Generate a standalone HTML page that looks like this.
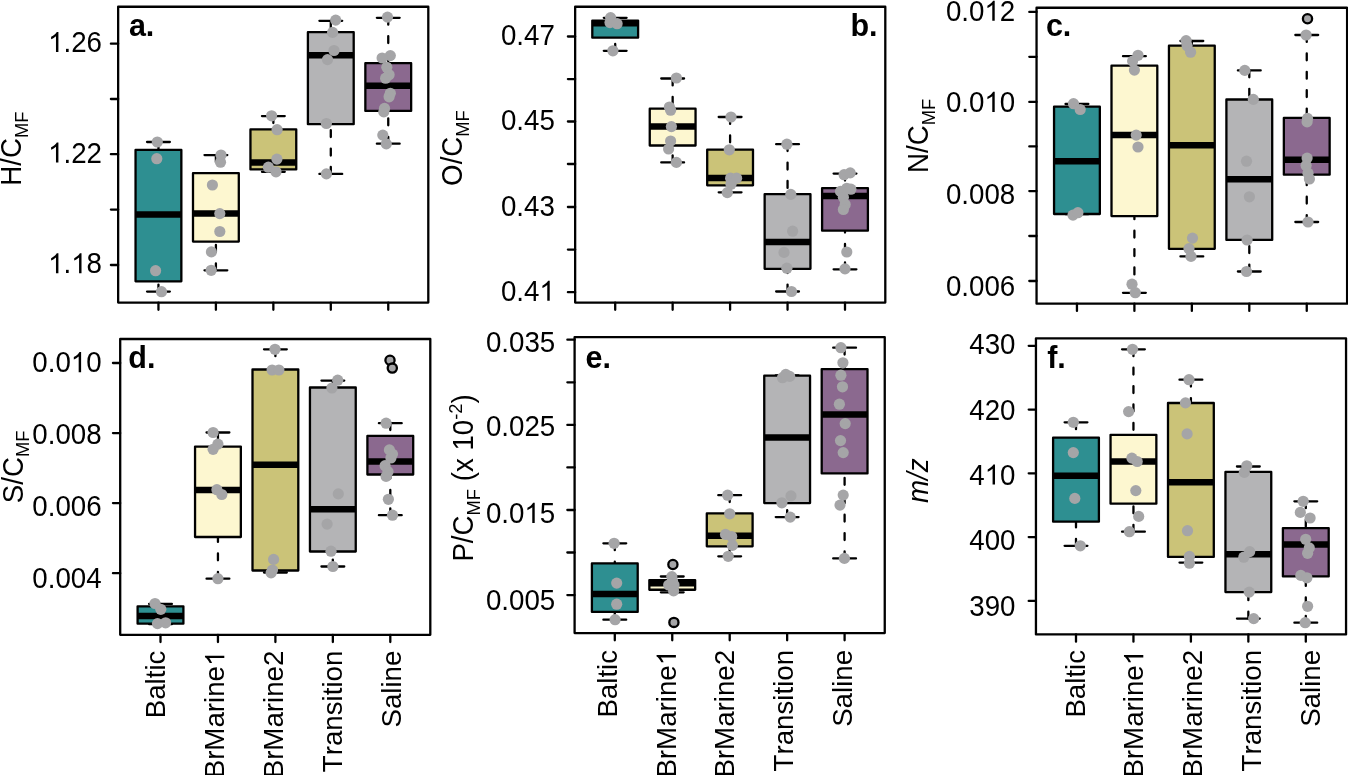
<!DOCTYPE html>
<html><head><meta charset="utf-8"><title>Boxplots</title>
<style>
html,body{margin:0;padding:0;background:#fff;}
body{width:1348px;height:775px;overflow:hidden;}
svg{display:block;will-change:transform;}
text{font-family:"Liberation Sans",sans-serif;fill:#000;font-kerning:none;}
.tl{font-size:27.7px;}
.sub{font-size:18.3px;}
.pl{font-size:30.5px;font-weight:bold;}
.fr{fill:none;stroke:#000;stroke-width:2.3;stroke-linejoin:round;}
.bx{stroke:#000;stroke-width:2.3;stroke-linejoin:round;}
.md{stroke:#000;stroke-width:6.5;stroke-linecap:butt;}
.wh{stroke:#000;stroke-width:2.3;stroke-dasharray:6.9 11.5;stroke-linecap:round;}
.st{stroke:#000;stroke-width:2.3;stroke-linecap:round;}
.tk{stroke:#000;stroke-width:2.3;stroke-linecap:round;}
.ol{fill:#A5A5A7;stroke:#000;stroke-width:2.3;}
</style></head>
<body>
<svg width="1348" height="775" viewBox="0 0 1348 775">
<rect width="1348" height="775" fill="#fff"/>
<g>
<line x1="158.45" y1="142" x2="158.45" y2="149.9" class="wh"/>
<line x1="158.45" y1="291.6" x2="158.45" y2="281.3" class="wh"/>
<line x1="147.05" y1="142" x2="169.85" y2="142" class="st"/>
<line x1="147.05" y1="291.6" x2="169.85" y2="291.6" class="st"/>
<rect x="135.55" y="149.9" width="45.8" height="131.4" fill="#2E8F91" class="bx"/>
<line x1="135.55" y1="214.6" x2="181.35" y2="214.6" class="md"/>
<line x1="215.9" y1="155.1" x2="215.9" y2="173.2" class="wh"/>
<line x1="215.9" y1="270.3" x2="215.9" y2="241.6" class="wh"/>
<line x1="204.5" y1="155.1" x2="227.3" y2="155.1" class="st"/>
<line x1="204.5" y1="270.3" x2="227.3" y2="270.3" class="st"/>
<rect x="193" y="173.2" width="45.8" height="68.4" fill="#FDF7D0" class="bx"/>
<line x1="193" y1="213.5" x2="238.8" y2="213.5" class="md"/>
<line x1="273.35" y1="116.1" x2="273.35" y2="129.4" class="wh"/>
<line x1="273.35" y1="171.8" x2="273.35" y2="169.4" class="wh"/>
<line x1="261.95" y1="116.1" x2="284.75" y2="116.1" class="st"/>
<line x1="261.95" y1="171.8" x2="284.75" y2="171.8" class="st"/>
<rect x="250.45" y="129.4" width="45.8" height="40" fill="#CBC378" class="bx"/>
<line x1="250.45" y1="162.5" x2="296.25" y2="162.5" class="md"/>
<line x1="330.8" y1="20.8" x2="330.8" y2="32.2" class="wh"/>
<line x1="330.8" y1="173.9" x2="330.8" y2="124.2" class="wh"/>
<line x1="319.4" y1="20.8" x2="342.2" y2="20.8" class="st"/>
<line x1="319.4" y1="173.9" x2="342.2" y2="173.9" class="st"/>
<rect x="307.9" y="32.2" width="45.8" height="92" fill="#B4B4B6" class="bx"/>
<line x1="307.9" y1="55.2" x2="353.7" y2="55.2" class="md"/>
<line x1="388.25" y1="17.8" x2="388.25" y2="63.2" class="wh"/>
<line x1="388.25" y1="143.7" x2="388.25" y2="110.9" class="wh"/>
<line x1="376.85" y1="17.8" x2="399.65" y2="17.8" class="st"/>
<line x1="376.85" y1="143.7" x2="399.65" y2="143.7" class="st"/>
<rect x="365.35" y="63.2" width="45.8" height="47.7" fill="#8B698F" class="bx"/>
<line x1="365.35" y1="85.8" x2="411.15" y2="85.8" class="md"/>
<circle cx="157.3" cy="142" r="5.6" fill="#A5A5A7"/>
<circle cx="156.8" cy="158.7" r="5.6" fill="#A5A5A7"/>
<circle cx="155.6" cy="270.7" r="5.6" fill="#A5A5A7"/>
<circle cx="161.5" cy="291.7" r="5.6" fill="#A5A5A7"/>
<circle cx="221" cy="155" r="5.6" fill="#A5A5A7"/>
<circle cx="220.5" cy="162.2" r="5.6" fill="#A5A5A7"/>
<circle cx="212.4" cy="185" r="5.6" fill="#A5A5A7"/>
<circle cx="219.8" cy="213.6" r="5.6" fill="#A5A5A7"/>
<circle cx="219.8" cy="231.5" r="5.6" fill="#A5A5A7"/>
<circle cx="211.4" cy="251.9" r="5.6" fill="#A5A5A7"/>
<circle cx="211.2" cy="270.3" r="5.6" fill="#A5A5A7"/>
<circle cx="271.6" cy="115.8" r="5.6" fill="#A5A5A7"/>
<circle cx="277.1" cy="129.7" r="5.6" fill="#A5A5A7"/>
<circle cx="276.9" cy="159.1" r="5.6" fill="#A5A5A7"/>
<circle cx="268.4" cy="167.2" r="5.6" fill="#A5A5A7"/>
<circle cx="276" cy="171.8" r="5.6" fill="#A5A5A7"/>
<circle cx="335.7" cy="20.1" r="5.6" fill="#A5A5A7"/>
<circle cx="332.6" cy="32.4" r="5.6" fill="#A5A5A7"/>
<circle cx="334" cy="50.5" r="5.6" fill="#A5A5A7"/>
<circle cx="327.5" cy="59.6" r="5.6" fill="#A5A5A7"/>
<circle cx="326.4" cy="123.5" r="5.6" fill="#A5A5A7"/>
<circle cx="326.4" cy="173.9" r="5.6" fill="#A5A5A7"/>
<circle cx="387.5" cy="17.1" r="5.6" fill="#A5A5A7"/>
<circle cx="390.3" cy="55.6" r="5.6" fill="#A5A5A7"/>
<circle cx="382.1" cy="58" r="5.6" fill="#A5A5A7"/>
<circle cx="386.8" cy="67.3" r="5.6" fill="#A5A5A7"/>
<circle cx="389.1" cy="74.7" r="5.6" fill="#A5A5A7"/>
<circle cx="385.6" cy="78.2" r="5.6" fill="#A5A5A7"/>
<circle cx="390.3" cy="93.3" r="5.6" fill="#A5A5A7"/>
<circle cx="389.1" cy="96.8" r="5.6" fill="#A5A5A7"/>
<circle cx="384.5" cy="108.4" r="5.6" fill="#A5A5A7"/>
<circle cx="383.8" cy="111.9" r="5.6" fill="#A5A5A7"/>
<circle cx="382.8" cy="135.1" r="5.6" fill="#A5A5A7"/>
<circle cx="386.3" cy="143.9" r="5.6" fill="#A5A5A7"/>
<rect x="118.15" y="6.77" width="310.15" height="295.78" class="fr"/>
<line x1="110.9" y1="43.7" x2="118.15" y2="43.7" class="tk"/>
<text transform="translate(102 52) scale(1 1.04)" class="tl" text-anchor="end"> .26</text>
<path transform="translate(48.09 52) scale(0.013525 -0.013715)" d="M763 0L583 0L583 1147C540 1106 483 1065 413 1024C343 983 280 952 223 931L223 1105C323 1152 410 1209 485 1276C560 1343 613 1406 644 1466L763 1466Z"/>
<line x1="110.9" y1="99" x2="118.15" y2="99" class="tk"/>
<line x1="110.9" y1="154.2" x2="118.15" y2="154.2" class="tk"/>
<text transform="translate(102 162.5) scale(1 1.04)" class="tl" text-anchor="end"> .22</text>
<path transform="translate(48.09 162.5) scale(0.013525 -0.013715)" d="M763 0L583 0L583 1147C540 1106 483 1065 413 1024C343 983 280 952 223 931L223 1105C323 1152 410 1209 485 1276C560 1343 613 1406 644 1466L763 1466Z"/>
<line x1="110.9" y1="209.6" x2="118.15" y2="209.6" class="tk"/>
<line x1="110.9" y1="265" x2="118.15" y2="265" class="tk"/>
<text transform="translate(102 273.3) scale(1 1.04)" class="tl" text-anchor="end"> . 8</text>
<path transform="translate(48.09 273.3) scale(0.013525 -0.013715)" d="M763 0L583 0L583 1147C540 1106 483 1065 413 1024C343 983 280 952 223 931L223 1105C323 1152 410 1209 485 1276C560 1343 613 1406 644 1466L763 1466Z"/>
<path transform="translate(71.19 273.3) scale(0.013525 -0.013715)" d="M763 0L583 0L583 1147C540 1106 483 1065 413 1024C343 983 280 952 223 931L223 1105C323 1152 410 1209 485 1276C560 1343 613 1406 644 1466L763 1466Z"/>
<line x1="158.45" y1="302.55" x2="158.45" y2="309.8" class="tk"/>
<line x1="215.9" y1="302.55" x2="215.9" y2="309.8" class="tk"/>
<line x1="273.35" y1="302.55" x2="273.35" y2="309.8" class="tk"/>
<line x1="330.8" y1="302.55" x2="330.8" y2="309.8" class="tk"/>
<line x1="388.25" y1="302.55" x2="388.25" y2="309.8" class="tk"/>
<text x="128.9" y="35.8" class="pl" text-anchor="start">a.</text>
<text transform="translate(20.9 185.7) rotate(-90) scale(1 1.04)" class="tl"><tspan>H/C</tspan><tspan class="sub" dy="6.4">MF</tspan></text>
</g>
<g>
<line x1="615.2" y1="17.8" x2="615.2" y2="20.6" class="wh"/>
<line x1="615.2" y1="50.8" x2="615.2" y2="37.7" class="wh"/>
<line x1="603.8" y1="17.8" x2="626.6" y2="17.8" class="st"/>
<line x1="603.8" y1="50.8" x2="626.6" y2="50.8" class="st"/>
<rect x="592.3" y="20.6" width="45.8" height="17.1" fill="#2E8F91" class="bx"/>
<line x1="592.3" y1="23.2" x2="638.1" y2="23.2" class="md"/>
<line x1="672.65" y1="78.5" x2="672.65" y2="108.7" class="wh"/>
<line x1="672.65" y1="162.4" x2="672.65" y2="145.5" class="wh"/>
<line x1="661.25" y1="78.5" x2="684.05" y2="78.5" class="st"/>
<line x1="661.25" y1="162.4" x2="684.05" y2="162.4" class="st"/>
<rect x="649.75" y="108.7" width="45.8" height="36.8" fill="#FDF7D0" class="bx"/>
<line x1="649.75" y1="126.6" x2="695.55" y2="126.6" class="md"/>
<line x1="730.1" y1="117" x2="730.1" y2="149.7" class="wh"/>
<line x1="730.1" y1="192.3" x2="730.1" y2="185.3" class="wh"/>
<line x1="718.7" y1="117" x2="741.5" y2="117" class="st"/>
<line x1="718.7" y1="192.3" x2="741.5" y2="192.3" class="st"/>
<rect x="707.2" y="149.7" width="45.8" height="35.6" fill="#CBC378" class="bx"/>
<line x1="707.2" y1="178.1" x2="753" y2="178.1" class="md"/>
<line x1="787.55" y1="144.2" x2="787.55" y2="194.2" class="wh"/>
<line x1="787.55" y1="291.5" x2="787.55" y2="268.8" class="wh"/>
<line x1="776.15" y1="144.2" x2="798.95" y2="144.2" class="st"/>
<line x1="776.15" y1="291.5" x2="798.95" y2="291.5" class="st"/>
<rect x="764.65" y="194.2" width="45.8" height="74.6" fill="#B4B4B6" class="bx"/>
<line x1="764.65" y1="242" x2="810.45" y2="242" class="md"/>
<line x1="845" y1="173.6" x2="845" y2="188.1" class="wh"/>
<line x1="845" y1="269.3" x2="845" y2="230.7" class="wh"/>
<line x1="833.6" y1="173.6" x2="856.4" y2="173.6" class="st"/>
<line x1="833.6" y1="269.3" x2="856.4" y2="269.3" class="st"/>
<rect x="822.1" y="188.1" width="45.8" height="42.6" fill="#8B698F" class="bx"/>
<line x1="822.1" y1="195.9" x2="867.9" y2="195.9" class="md"/>
<circle cx="610.6" cy="17.6" r="5.6" fill="#A5A5A7"/>
<circle cx="610" cy="22.6" r="5.6" fill="#A5A5A7"/>
<circle cx="617.1" cy="23.7" r="5.6" fill="#A5A5A7"/>
<circle cx="612.9" cy="50.8" r="5.6" fill="#A5A5A7"/>
<circle cx="676.4" cy="78" r="5.6" fill="#A5A5A7"/>
<circle cx="669.4" cy="107" r="5.6" fill="#A5A5A7"/>
<circle cx="670.6" cy="110.2" r="5.6" fill="#A5A5A7"/>
<circle cx="671.4" cy="126.6" r="5.6" fill="#A5A5A7"/>
<circle cx="670.6" cy="141" r="5.6" fill="#A5A5A7"/>
<circle cx="668.6" cy="149" r="5.6" fill="#A5A5A7"/>
<circle cx="676.4" cy="162.4" r="5.6" fill="#A5A5A7"/>
<circle cx="731" cy="117" r="5.6" fill="#A5A5A7"/>
<circle cx="729.3" cy="149.8" r="5.6" fill="#A5A5A7"/>
<circle cx="730.6" cy="178.2" r="5.6" fill="#A5A5A7"/>
<circle cx="736.6" cy="178.2" r="5.6" fill="#A5A5A7"/>
<circle cx="731" cy="184.3" r="5.6" fill="#A5A5A7"/>
<circle cx="727.3" cy="192.6" r="5.6" fill="#A5A5A7"/>
<circle cx="786.9" cy="144.2" r="5.6" fill="#A5A5A7"/>
<circle cx="790.8" cy="194.4" r="5.6" fill="#A5A5A7"/>
<circle cx="792.6" cy="231.2" r="5.6" fill="#A5A5A7"/>
<circle cx="784" cy="252.4" r="5.6" fill="#A5A5A7"/>
<circle cx="786.9" cy="268.2" r="5.6" fill="#A5A5A7"/>
<circle cx="791.5" cy="291.5" r="5.6" fill="#A5A5A7"/>
<circle cx="844.1" cy="174.7" r="5.6" fill="#A5A5A7"/>
<circle cx="850.2" cy="172.9" r="5.6" fill="#A5A5A7"/>
<circle cx="846.8" cy="188.3" r="5.6" fill="#A5A5A7"/>
<circle cx="850.9" cy="189.2" r="5.6" fill="#A5A5A7"/>
<circle cx="840.5" cy="191.4" r="5.6" fill="#A5A5A7"/>
<circle cx="843.4" cy="197.3" r="5.6" fill="#A5A5A7"/>
<circle cx="845.2" cy="204.5" r="5.6" fill="#A5A5A7"/>
<circle cx="843.4" cy="209.5" r="5.6" fill="#A5A5A7"/>
<circle cx="846.8" cy="252" r="5.6" fill="#A5A5A7"/>
<circle cx="845" cy="268.9" r="5.6" fill="#A5A5A7"/>
<rect x="575.15" y="6.77" width="310.15" height="295.78" class="fr"/>
<line x1="567.9" y1="36.5" x2="575.15" y2="36.5" class="tk"/>
<text transform="translate(554.8 45.1) scale(1 1.04)" class="tl" text-anchor="end">0.47</text>
<line x1="567.9" y1="79.1" x2="575.15" y2="79.1" class="tk"/>
<line x1="567.9" y1="121.5" x2="575.15" y2="121.5" class="tk"/>
<text transform="translate(554.8 130.1) scale(1 1.04)" class="tl" text-anchor="end">0.45</text>
<line x1="567.9" y1="164" x2="575.15" y2="164" class="tk"/>
<line x1="567.9" y1="207" x2="575.15" y2="207" class="tk"/>
<text transform="translate(554.8 215.6) scale(1 1.04)" class="tl" text-anchor="end">0.43</text>
<line x1="567.9" y1="249.6" x2="575.15" y2="249.6" class="tk"/>
<line x1="567.9" y1="292.2" x2="575.15" y2="292.2" class="tk"/>
<text transform="translate(554.8 300.8) scale(1 1.04)" class="tl" text-anchor="end">0.4 </text>
<path transform="translate(539.39 300.8) scale(0.013525 -0.013715)" d="M763 0L583 0L583 1147C540 1106 483 1065 413 1024C343 983 280 952 223 931L223 1105C323 1152 410 1209 485 1276C560 1343 613 1406 644 1466L763 1466Z"/>
<line x1="615.2" y1="302.55" x2="615.2" y2="309.8" class="tk"/>
<line x1="672.65" y1="302.55" x2="672.65" y2="309.8" class="tk"/>
<line x1="730.1" y1="302.55" x2="730.1" y2="309.8" class="tk"/>
<line x1="787.55" y1="302.55" x2="787.55" y2="309.8" class="tk"/>
<line x1="845" y1="302.55" x2="845" y2="309.8" class="tk"/>
<text x="877.5" y="36" class="pl" text-anchor="end">b.</text>
<text transform="translate(462 185.9) rotate(-90) scale(1 1.04)" class="tl"><tspan>O/C</tspan><tspan class="sub" dy="6.4">MF</tspan></text>
</g>
<g>
<line x1="1076.95" y1="104" x2="1076.95" y2="106.7" class="wh"/>
<line x1="1076.95" y1="214.2" x2="1076.95" y2="214" class="wh"/>
<line x1="1065.55" y1="104" x2="1088.35" y2="104" class="st"/>
<line x1="1065.55" y1="214.2" x2="1088.35" y2="214.2" class="st"/>
<rect x="1054.05" y="106.7" width="45.8" height="107.3" fill="#2E8F91" class="bx"/>
<line x1="1054.05" y1="161.2" x2="1099.85" y2="161.2" class="md"/>
<line x1="1134.4" y1="56.2" x2="1134.4" y2="65.7" class="wh"/>
<line x1="1134.4" y1="292.8" x2="1134.4" y2="216.1" class="wh"/>
<line x1="1123" y1="56.2" x2="1145.8" y2="56.2" class="st"/>
<line x1="1123" y1="292.8" x2="1145.8" y2="292.8" class="st"/>
<rect x="1111.5" y="65.7" width="45.8" height="150.4" fill="#FDF7D0" class="bx"/>
<line x1="1111.5" y1="135.1" x2="1157.3" y2="135.1" class="md"/>
<line x1="1191.85" y1="41" x2="1191.85" y2="45.7" class="wh"/>
<line x1="1191.85" y1="256.4" x2="1191.85" y2="248.8" class="wh"/>
<line x1="1180.45" y1="41" x2="1203.25" y2="41" class="st"/>
<line x1="1180.45" y1="256.4" x2="1203.25" y2="256.4" class="st"/>
<rect x="1168.95" y="45.7" width="45.8" height="203.1" fill="#CBC378" class="bx"/>
<line x1="1168.95" y1="145.2" x2="1214.75" y2="145.2" class="md"/>
<line x1="1249.3" y1="70.4" x2="1249.3" y2="99.5" class="wh"/>
<line x1="1249.3" y1="271.5" x2="1249.3" y2="239.9" class="wh"/>
<line x1="1237.9" y1="70.4" x2="1260.7" y2="70.4" class="st"/>
<line x1="1237.9" y1="271.5" x2="1260.7" y2="271.5" class="st"/>
<rect x="1226.4" y="99.5" width="45.8" height="140.4" fill="#B4B4B6" class="bx"/>
<line x1="1226.4" y1="179.3" x2="1272.2" y2="179.3" class="md"/>
<line x1="1306.75" y1="35" x2="1306.75" y2="117.9" class="wh"/>
<line x1="1306.75" y1="222" x2="1306.75" y2="174.7" class="wh"/>
<line x1="1295.35" y1="35" x2="1318.15" y2="35" class="st"/>
<line x1="1295.35" y1="222" x2="1318.15" y2="222" class="st"/>
<rect x="1283.85" y="117.9" width="45.8" height="56.8" fill="#8B698F" class="bx"/>
<line x1="1283.85" y1="159.8" x2="1329.65" y2="159.8" class="md"/>
<circle cx="1307.5" cy="18.7" r="4.6" class="ol"/>
<circle cx="1073.5" cy="103.7" r="5.6" fill="#A5A5A7"/>
<circle cx="1080.2" cy="109.5" r="5.6" fill="#A5A5A7"/>
<circle cx="1073" cy="215.1" r="5.6" fill="#A5A5A7"/>
<circle cx="1077.9" cy="212.7" r="5.6" fill="#A5A5A7"/>
<circle cx="1138" cy="55.3" r="5.6" fill="#A5A5A7"/>
<circle cx="1132.6" cy="61.1" r="5.6" fill="#A5A5A7"/>
<circle cx="1134.4" cy="70.1" r="5.6" fill="#A5A5A7"/>
<circle cx="1136.2" cy="135.1" r="5.6" fill="#A5A5A7"/>
<circle cx="1138" cy="147" r="5.6" fill="#A5A5A7"/>
<circle cx="1132" cy="284.2" r="5.6" fill="#A5A5A7"/>
<circle cx="1135.3" cy="292.7" r="5.6" fill="#A5A5A7"/>
<circle cx="1186.1" cy="40.6" r="5.6" fill="#A5A5A7"/>
<circle cx="1187.1" cy="45.8" r="5.6" fill="#A5A5A7"/>
<circle cx="1190.6" cy="52.2" r="5.6" fill="#A5A5A7"/>
<circle cx="1192.5" cy="238.1" r="5.6" fill="#A5A5A7"/>
<circle cx="1189" cy="248.7" r="5.6" fill="#A5A5A7"/>
<circle cx="1191" cy="256.4" r="5.6" fill="#A5A5A7"/>
<circle cx="1244.8" cy="70.4" r="5.6" fill="#A5A5A7"/>
<circle cx="1253.3" cy="99.4" r="5.6" fill="#A5A5A7"/>
<circle cx="1246.5" cy="161.2" r="5.6" fill="#A5A5A7"/>
<circle cx="1249.4" cy="196.8" r="5.6" fill="#A5A5A7"/>
<circle cx="1247.1" cy="240" r="5.6" fill="#A5A5A7"/>
<circle cx="1246.5" cy="271.5" r="5.6" fill="#A5A5A7"/>
<circle cx="1306.1" cy="35" r="5.6" fill="#A5A5A7"/>
<circle cx="1307.5" cy="118.4" r="5.6" fill="#A5A5A7"/>
<circle cx="1307.1" cy="121.9" r="5.6" fill="#A5A5A7"/>
<circle cx="1307.1" cy="158.1" r="5.6" fill="#A5A5A7"/>
<circle cx="1306.1" cy="165.5" r="5.6" fill="#A5A5A7"/>
<circle cx="1308" cy="173.2" r="5.6" fill="#A5A5A7"/>
<circle cx="1309.4" cy="179" r="5.6" fill="#A5A5A7"/>
<circle cx="1308" cy="222" r="5.6" fill="#A5A5A7"/>
<rect x="1036.55" y="7.75" width="310.55" height="295.9" class="fr"/>
<line x1="1029.3" y1="11.9" x2="1036.55" y2="11.9" class="tk"/>
<text transform="translate(1015.2 20.8) scale(1 1.04)" class="tl" text-anchor="end">0.0 2</text>
<path transform="translate(984.39 20.8) scale(0.013525 -0.013715)" d="M763 0L583 0L583 1147C540 1106 483 1065 413 1024C343 983 280 952 223 931L223 1105C323 1152 410 1209 485 1276C560 1343 613 1406 644 1466L763 1466Z"/>
<line x1="1029.3" y1="56.8" x2="1036.55" y2="56.8" class="tk"/>
<line x1="1029.3" y1="101.9" x2="1036.55" y2="101.9" class="tk"/>
<text transform="translate(1015.2 111.9) scale(1 1.04)" class="tl" text-anchor="end">0.0 0</text>
<path transform="translate(984.39 111.9) scale(0.013525 -0.013715)" d="M763 0L583 0L583 1147C540 1106 483 1065 413 1024C343 983 280 952 223 931L223 1105C323 1152 410 1209 485 1276C560 1343 613 1406 644 1466L763 1466Z"/>
<line x1="1029.3" y1="146.4" x2="1036.55" y2="146.4" class="tk"/>
<line x1="1029.3" y1="191.1" x2="1036.55" y2="191.1" class="tk"/>
<text transform="translate(1015.2 204.1) scale(1 1.04)" class="tl" text-anchor="end">0.008</text>
<line x1="1029.3" y1="236" x2="1036.55" y2="236" class="tk"/>
<line x1="1029.3" y1="281" x2="1036.55" y2="281" class="tk"/>
<text transform="translate(1015.2 295.7) scale(1 1.04)" class="tl" text-anchor="end">0.006</text>
<line x1="1076.95" y1="303.65" x2="1076.95" y2="310.9" class="tk"/>
<line x1="1134.4" y1="303.65" x2="1134.4" y2="310.9" class="tk"/>
<line x1="1191.85" y1="303.65" x2="1191.85" y2="310.9" class="tk"/>
<line x1="1249.3" y1="303.65" x2="1249.3" y2="310.9" class="tk"/>
<line x1="1306.75" y1="303.65" x2="1306.75" y2="310.9" class="tk"/>
<text x="1045.9" y="35.8" class="pl" text-anchor="start">c.</text>
<text transform="translate(928 173) rotate(-90) scale(1 1.04)" class="tl"><tspan>N/C</tspan><tspan class="sub" dy="6.4">MF</tspan></text>
</g>
<g>
<line x1="160.5" y1="603.9" x2="160.5" y2="606.3" class="wh"/>
<line x1="160.5" y1="624.2" x2="160.5" y2="623.7" class="wh"/>
<line x1="149.1" y1="603.9" x2="171.9" y2="603.9" class="st"/>
<line x1="149.1" y1="624.2" x2="171.9" y2="624.2" class="st"/>
<rect x="137.6" y="606.3" width="45.8" height="17.4" fill="#2E8F91" class="bx"/>
<line x1="137.6" y1="616.1" x2="183.4" y2="616.1" class="md"/>
<line x1="217.95" y1="432.5" x2="217.95" y2="446.6" class="wh"/>
<line x1="217.95" y1="578.7" x2="217.95" y2="537" class="wh"/>
<line x1="206.55" y1="432.5" x2="229.35" y2="432.5" class="st"/>
<line x1="206.55" y1="578.7" x2="229.35" y2="578.7" class="st"/>
<rect x="195.05" y="446.6" width="45.8" height="90.4" fill="#FDF7D0" class="bx"/>
<line x1="195.05" y1="490" x2="240.85" y2="490" class="md"/>
<line x1="275.4" y1="349.3" x2="275.4" y2="369.5" class="wh"/>
<line x1="275.4" y1="572.5" x2="275.4" y2="570.5" class="wh"/>
<line x1="264" y1="349.3" x2="286.8" y2="349.3" class="st"/>
<line x1="264" y1="572.5" x2="286.8" y2="572.5" class="st"/>
<rect x="252.5" y="369.5" width="45.8" height="201" fill="#CBC378" class="bx"/>
<line x1="252.5" y1="464.8" x2="298.3" y2="464.8" class="md"/>
<line x1="332.85" y1="380.6" x2="332.85" y2="387.5" class="wh"/>
<line x1="332.85" y1="566.5" x2="332.85" y2="551.5" class="wh"/>
<line x1="321.45" y1="380.6" x2="344.25" y2="380.6" class="st"/>
<line x1="321.45" y1="566.5" x2="344.25" y2="566.5" class="st"/>
<rect x="309.95" y="387.5" width="45.8" height="164" fill="#B4B4B6" class="bx"/>
<line x1="309.95" y1="509.3" x2="355.75" y2="509.3" class="md"/>
<line x1="390.3" y1="423.2" x2="390.3" y2="435.9" class="wh"/>
<line x1="390.3" y1="515.2" x2="390.3" y2="474.5" class="wh"/>
<line x1="378.9" y1="423.2" x2="401.7" y2="423.2" class="st"/>
<line x1="378.9" y1="515.2" x2="401.7" y2="515.2" class="st"/>
<rect x="367.4" y="435.9" width="45.8" height="38.6" fill="#8B698F" class="bx"/>
<line x1="367.4" y1="461.4" x2="413.2" y2="461.4" class="md"/>
<circle cx="390" cy="360.3" r="4.6" class="ol"/>
<circle cx="392.3" cy="368.1" r="4.6" class="ol"/>
<circle cx="155" cy="603.5" r="5.6" fill="#A5A5A7"/>
<circle cx="160.8" cy="609.3" r="5.6" fill="#A5A5A7"/>
<circle cx="157.5" cy="623.6" r="5.6" fill="#A5A5A7"/>
<circle cx="165.6" cy="622.8" r="5.6" fill="#A5A5A7"/>
<circle cx="213.1" cy="432.5" r="5.6" fill="#A5A5A7"/>
<circle cx="217.9" cy="444.1" r="5.6" fill="#A5A5A7"/>
<circle cx="213.1" cy="449.3" r="5.6" fill="#A5A5A7"/>
<circle cx="216.9" cy="489.7" r="5.6" fill="#A5A5A7"/>
<circle cx="221.8" cy="494.5" r="5.6" fill="#A5A5A7"/>
<circle cx="217.9" cy="578.7" r="5.6" fill="#A5A5A7"/>
<circle cx="275" cy="349.3" r="5.6" fill="#A5A5A7"/>
<circle cx="272.1" cy="370" r="5.6" fill="#A5A5A7"/>
<circle cx="278.9" cy="370" r="5.6" fill="#A5A5A7"/>
<circle cx="273.6" cy="559.4" r="5.6" fill="#A5A5A7"/>
<circle cx="272.5" cy="570" r="5.6" fill="#A5A5A7"/>
<circle cx="271.1" cy="572.9" r="5.6" fill="#A5A5A7"/>
<circle cx="337.7" cy="380.2" r="5.6" fill="#A5A5A7"/>
<circle cx="331.9" cy="388" r="5.6" fill="#A5A5A7"/>
<circle cx="338.3" cy="493.9" r="5.6" fill="#A5A5A7"/>
<circle cx="327.1" cy="524.1" r="5.6" fill="#A5A5A7"/>
<circle cx="331" cy="551.2" r="5.6" fill="#A5A5A7"/>
<circle cx="332.9" cy="566.5" r="5.6" fill="#A5A5A7"/>
<circle cx="386.1" cy="423.2" r="5.6" fill="#A5A5A7"/>
<circle cx="389.4" cy="449.9" r="5.6" fill="#A5A5A7"/>
<circle cx="392.5" cy="454.1" r="5.6" fill="#A5A5A7"/>
<circle cx="390.9" cy="458" r="5.6" fill="#A5A5A7"/>
<circle cx="385.1" cy="465.7" r="5.6" fill="#A5A5A7"/>
<circle cx="388" cy="471.6" r="5.6" fill="#A5A5A7"/>
<circle cx="386.1" cy="476.4" r="5.6" fill="#A5A5A7"/>
<circle cx="388.4" cy="499.3" r="5.6" fill="#A5A5A7"/>
<circle cx="392.5" cy="515.2" r="5.6" fill="#A5A5A7"/>
<rect x="120.2" y="339" width="310.1" height="295.85" class="fr"/>
<line x1="112.95" y1="363" x2="120.2" y2="363" class="tk"/>
<text transform="translate(101.6 372.2) scale(1 1.04)" class="tl" text-anchor="end">0.0 0</text>
<path transform="translate(70.79 372.2) scale(0.013525 -0.013715)" d="M763 0L583 0L583 1147C540 1106 483 1065 413 1024C343 983 280 952 223 931L223 1105C323 1152 410 1209 485 1276C560 1343 613 1406 644 1466L763 1466Z"/>
<line x1="112.95" y1="433.1" x2="120.2" y2="433.1" class="tk"/>
<text transform="translate(101.6 443.9) scale(1 1.04)" class="tl" text-anchor="end">0.008</text>
<line x1="112.95" y1="503.1" x2="120.2" y2="503.1" class="tk"/>
<text transform="translate(101.6 515.7) scale(1 1.04)" class="tl" text-anchor="end">0.006</text>
<line x1="112.95" y1="573.2" x2="120.2" y2="573.2" class="tk"/>
<text transform="translate(101.6 587.5) scale(1 1.04)" class="tl" text-anchor="end">0.004</text>
<line x1="160.5" y1="634.85" x2="160.5" y2="642.1" class="tk"/>
<line x1="217.95" y1="634.85" x2="217.95" y2="642.1" class="tk"/>
<line x1="275.4" y1="634.85" x2="275.4" y2="642.1" class="tk"/>
<line x1="332.85" y1="634.85" x2="332.85" y2="642.1" class="tk"/>
<line x1="390.3" y1="634.85" x2="390.3" y2="642.1" class="tk"/>
<text transform="translate(165.2 650.6) rotate(-90)" class="tl" text-anchor="end">Baltic</text>
<text transform="translate(224.3 650.6) rotate(-90)" class="tl" text-anchor="end">BrMarine </text>
<path transform="translate(224.3 650.6) rotate(-90) translate(-15.41 0) scale(0.013525 -0.013187)" d="M763 0L583 0L583 1147C540 1106 483 1065 413 1024C343 983 280 952 223 931L223 1105C323 1152 410 1209 485 1276C560 1343 613 1406 644 1466L763 1466Z"/>
<text transform="translate(282.7 650.6) rotate(-90)" class="tl" text-anchor="end">BrMarine2</text>
<text transform="translate(341.7 650.6) rotate(-90)" class="tl" text-anchor="end">Transition</text>
<text transform="translate(400.8 650.6) rotate(-90)" class="tl" text-anchor="end">Saline</text>
<text x="128.3" y="368.1" class="pl" text-anchor="start">d.</text>
<text transform="translate(22.8 503.2) rotate(-90) scale(1 1.04)" class="tl"><tspan>S/C</tspan><tspan class="sub" dy="6.4">MF</tspan></text>
</g>
<g>
<line x1="614.8" y1="543.3" x2="614.8" y2="563.4" class="wh"/>
<line x1="614.8" y1="619.7" x2="614.8" y2="611.9" class="wh"/>
<line x1="603.4" y1="543.3" x2="626.2" y2="543.3" class="st"/>
<line x1="603.4" y1="619.7" x2="626.2" y2="619.7" class="st"/>
<rect x="591.9" y="563.4" width="45.8" height="48.5" fill="#2E8F91" class="bx"/>
<line x1="591.9" y1="593.9" x2="637.7" y2="593.9" class="md"/>
<line x1="672.25" y1="576.5" x2="672.25" y2="580.05" class="wh"/>
<line x1="672.25" y1="592.3" x2="672.25" y2="589.75" class="wh"/>
<line x1="660.85" y1="576.5" x2="683.65" y2="576.5" class="st"/>
<line x1="660.85" y1="592.3" x2="683.65" y2="592.3" class="st"/>
<rect x="649.35" y="580.05" width="45.8" height="9.7" fill="#FDF7D0" class="bx"/>
<line x1="649.35" y1="583.15" x2="695.15" y2="583.15" class="md"/>
<line x1="729.7" y1="495.2" x2="729.7" y2="513.4" class="wh"/>
<line x1="729.7" y1="556.3" x2="729.7" y2="546.3" class="wh"/>
<line x1="718.3" y1="495.2" x2="741.1" y2="495.2" class="st"/>
<line x1="718.3" y1="556.3" x2="741.1" y2="556.3" class="st"/>
<rect x="706.8" y="513.4" width="45.8" height="32.9" fill="#CBC378" class="bx"/>
<line x1="706.8" y1="535.7" x2="752.6" y2="535.7" class="md"/>
<line x1="787.15" y1="375.5" x2="787.15" y2="375.7" class="wh"/>
<line x1="787.15" y1="517.1" x2="787.15" y2="503.1" class="wh"/>
<line x1="775.75" y1="375.5" x2="798.55" y2="375.5" class="st"/>
<line x1="775.75" y1="517.1" x2="798.55" y2="517.1" class="st"/>
<rect x="764.25" y="375.7" width="45.8" height="127.4" fill="#B4B4B6" class="bx"/>
<line x1="764.25" y1="437.4" x2="810.05" y2="437.4" class="md"/>
<line x1="844.6" y1="347.7" x2="844.6" y2="369.1" class="wh"/>
<line x1="844.6" y1="558.4" x2="844.6" y2="473.4" class="wh"/>
<line x1="833.2" y1="347.7" x2="856" y2="347.7" class="st"/>
<line x1="833.2" y1="558.4" x2="856" y2="558.4" class="st"/>
<rect x="821.7" y="369.1" width="45.8" height="104.3" fill="#8B698F" class="bx"/>
<line x1="821.7" y1="414.5" x2="867.5" y2="414.5" class="md"/>
<circle cx="672.9" cy="564.5" r="4.6" class="ol"/>
<circle cx="673.9" cy="622.4" r="4.6" class="ol"/>
<circle cx="614.1" cy="543.3" r="5.6" fill="#A5A5A7"/>
<circle cx="616.7" cy="583.1" r="5.6" fill="#A5A5A7"/>
<circle cx="616.7" cy="604.2" r="5.6" fill="#A5A5A7"/>
<circle cx="615.1" cy="619.7" r="5.6" fill="#A5A5A7"/>
<circle cx="671.8" cy="576.6" r="5.6" fill="#A5A5A7"/>
<circle cx="672.5" cy="581" r="5.6" fill="#A5A5A7"/>
<circle cx="668.7" cy="585" r="5.6" fill="#A5A5A7"/>
<circle cx="674" cy="585" r="5.6" fill="#A5A5A7"/>
<circle cx="673.6" cy="590.9" r="5.6" fill="#A5A5A7"/>
<circle cx="727.6" cy="495.2" r="5.6" fill="#A5A5A7"/>
<circle cx="729.7" cy="513.8" r="5.6" fill="#A5A5A7"/>
<circle cx="725.5" cy="534.4" r="5.6" fill="#A5A5A7"/>
<circle cx="731.7" cy="536.5" r="5.6" fill="#A5A5A7"/>
<circle cx="732.4" cy="545.4" r="5.6" fill="#A5A5A7"/>
<circle cx="728.2" cy="556.3" r="5.6" fill="#A5A5A7"/>
<circle cx="782.5" cy="377.7" r="5.6" fill="#A5A5A7"/>
<circle cx="785.8" cy="374.4" r="5.6" fill="#A5A5A7"/>
<circle cx="789.7" cy="376.4" r="5.6" fill="#A5A5A7"/>
<circle cx="791" cy="495.9" r="5.6" fill="#A5A5A7"/>
<circle cx="781.9" cy="502.8" r="5.6" fill="#A5A5A7"/>
<circle cx="790.2" cy="517.1" r="5.6" fill="#A5A5A7"/>
<circle cx="840.9" cy="347.7" r="5.6" fill="#A5A5A7"/>
<circle cx="842.9" cy="362.8" r="5.6" fill="#A5A5A7"/>
<circle cx="840.9" cy="375.2" r="5.6" fill="#A5A5A7"/>
<circle cx="842.5" cy="386.8" r="5.6" fill="#A5A5A7"/>
<circle cx="839.4" cy="404.2" r="5.6" fill="#A5A5A7"/>
<circle cx="845.2" cy="423.6" r="5.6" fill="#A5A5A7"/>
<circle cx="840.5" cy="440.6" r="5.6" fill="#A5A5A7"/>
<circle cx="843.2" cy="452.6" r="5.6" fill="#A5A5A7"/>
<circle cx="843.2" cy="495.1" r="5.6" fill="#A5A5A7"/>
<circle cx="840" cy="505.1" r="5.6" fill="#A5A5A7"/>
<circle cx="844.4" cy="558.4" r="5.6" fill="#A5A5A7"/>
<rect x="574.6" y="337.2" width="310.15" height="295.9" class="fr"/>
<line x1="567.35" y1="339.7" x2="574.6" y2="339.7" class="tk"/>
<text transform="translate(555.2 352.4) scale(1 1.04)" class="tl" text-anchor="end">0.035</text>
<line x1="567.35" y1="382.3" x2="574.6" y2="382.3" class="tk"/>
<line x1="567.35" y1="424.9" x2="574.6" y2="424.9" class="tk"/>
<text transform="translate(555.2 436.1) scale(1 1.04)" class="tl" text-anchor="end">0.025</text>
<line x1="567.35" y1="467.4" x2="574.6" y2="467.4" class="tk"/>
<line x1="567.35" y1="510" x2="574.6" y2="510" class="tk"/>
<text transform="translate(555.2 522.9) scale(1 1.04)" class="tl" text-anchor="end">0.0 5</text>
<path transform="translate(524.39 522.9) scale(0.013525 -0.013715)" d="M763 0L583 0L583 1147C540 1106 483 1065 413 1024C343 983 280 952 223 931L223 1105C323 1152 410 1209 485 1276C560 1343 613 1406 644 1466L763 1466Z"/>
<line x1="567.35" y1="552.5" x2="574.6" y2="552.5" class="tk"/>
<line x1="567.35" y1="595.1" x2="574.6" y2="595.1" class="tk"/>
<text transform="translate(555.2 609.7) scale(1 1.04)" class="tl" text-anchor="end">0.005</text>
<line x1="614.8" y1="633.1" x2="614.8" y2="640.35" class="tk"/>
<line x1="672.25" y1="633.1" x2="672.25" y2="640.35" class="tk"/>
<line x1="729.7" y1="633.1" x2="729.7" y2="640.35" class="tk"/>
<line x1="787.15" y1="633.1" x2="787.15" y2="640.35" class="tk"/>
<line x1="844.6" y1="633.1" x2="844.6" y2="640.35" class="tk"/>
<text transform="translate(617.1 649.9) rotate(-90)" class="tl" text-anchor="end">Baltic</text>
<text transform="translate(675.9 649.9) rotate(-90)" class="tl" text-anchor="end">BrMarine </text>
<path transform="translate(675.9 649.9) rotate(-90) translate(-15.41 0) scale(0.013525 -0.013187)" d="M763 0L583 0L583 1147C540 1106 483 1065 413 1024C343 983 280 952 223 931L223 1105C323 1152 410 1209 485 1276C560 1343 613 1406 644 1466L763 1466Z"/>
<text transform="translate(734.3 649.9) rotate(-90)" class="tl" text-anchor="end">BrMarine2</text>
<text transform="translate(793.4 649.9) rotate(-90)" class="tl" text-anchor="end">Transition</text>
<text transform="translate(851.7 649.9) rotate(-90)" class="tl" text-anchor="end">Saline</text>
<text x="585.5" y="367.9" class="pl" text-anchor="start">e.</text>
<text transform="translate(473 561.6) rotate(-90) scale(1 1.04)" class="tl"><tspan>P/C</tspan><tspan class="sub" dy="6.4">MF</tspan><tspan dy="-6.4">&#160;(x&#160;10</tspan><tspan class="sub" dy="-11">-2</tspan><tspan dy="11">)</tspan></text>
</g>
<g>
<line x1="1076" y1="422.3" x2="1076" y2="437.7" class="wh"/>
<line x1="1076" y1="545.8" x2="1076" y2="521.7" class="wh"/>
<line x1="1064.6" y1="422.3" x2="1087.4" y2="422.3" class="st"/>
<line x1="1064.6" y1="545.8" x2="1087.4" y2="545.8" class="st"/>
<rect x="1053.1" y="437.7" width="45.8" height="84" fill="#2E8F91" class="bx"/>
<line x1="1053.1" y1="475.8" x2="1098.9" y2="475.8" class="md"/>
<line x1="1133.45" y1="349.3" x2="1133.45" y2="434.8" class="wh"/>
<line x1="1133.45" y1="531.7" x2="1133.45" y2="503.7" class="wh"/>
<line x1="1122.05" y1="349.3" x2="1144.85" y2="349.3" class="st"/>
<line x1="1122.05" y1="531.7" x2="1144.85" y2="531.7" class="st"/>
<rect x="1110.55" y="434.8" width="45.8" height="68.9" fill="#FDF7D0" class="bx"/>
<line x1="1110.55" y1="461.6" x2="1156.35" y2="461.6" class="md"/>
<line x1="1190.9" y1="379.7" x2="1190.9" y2="403" class="wh"/>
<line x1="1190.9" y1="562.6" x2="1190.9" y2="556.9" class="wh"/>
<line x1="1179.5" y1="379.7" x2="1202.3" y2="379.7" class="st"/>
<line x1="1179.5" y1="562.6" x2="1202.3" y2="562.6" class="st"/>
<rect x="1168" y="403" width="45.8" height="153.9" fill="#CBC378" class="bx"/>
<line x1="1168" y1="482.2" x2="1213.8" y2="482.2" class="md"/>
<line x1="1248.35" y1="466.5" x2="1248.35" y2="471.9" class="wh"/>
<line x1="1248.35" y1="618.6" x2="1248.35" y2="592.1" class="wh"/>
<line x1="1236.95" y1="466.5" x2="1259.75" y2="466.5" class="st"/>
<line x1="1236.95" y1="618.6" x2="1259.75" y2="618.6" class="st"/>
<rect x="1225.45" y="471.9" width="45.8" height="120.2" fill="#B4B4B6" class="bx"/>
<line x1="1225.45" y1="554.3" x2="1271.25" y2="554.3" class="md"/>
<line x1="1305.8" y1="501.3" x2="1305.8" y2="528.1" class="wh"/>
<line x1="1305.8" y1="622.7" x2="1305.8" y2="576.4" class="wh"/>
<line x1="1294.4" y1="501.3" x2="1317.2" y2="501.3" class="st"/>
<line x1="1294.4" y1="622.7" x2="1317.2" y2="622.7" class="st"/>
<rect x="1282.9" y="528.1" width="45.8" height="48.3" fill="#8B698F" class="bx"/>
<line x1="1282.9" y1="544.6" x2="1328.7" y2="544.6" class="md"/>
<circle cx="1073.3" cy="422.3" r="5.6" fill="#A5A5A7"/>
<circle cx="1073.3" cy="452.6" r="5.6" fill="#A5A5A7"/>
<circle cx="1074.8" cy="498.4" r="5.6" fill="#A5A5A7"/>
<circle cx="1080.3" cy="545.8" r="5.6" fill="#A5A5A7"/>
<circle cx="1132.5" cy="349.3" r="5.6" fill="#A5A5A7"/>
<circle cx="1128.6" cy="411.6" r="5.6" fill="#A5A5A7"/>
<circle cx="1131.9" cy="458.1" r="5.6" fill="#A5A5A7"/>
<circle cx="1137.2" cy="461.5" r="5.6" fill="#A5A5A7"/>
<circle cx="1135.8" cy="490.6" r="5.6" fill="#A5A5A7"/>
<circle cx="1138.7" cy="516.4" r="5.6" fill="#A5A5A7"/>
<circle cx="1129.4" cy="531.7" r="5.6" fill="#A5A5A7"/>
<circle cx="1189" cy="379.7" r="5.6" fill="#A5A5A7"/>
<circle cx="1185.5" cy="402.9" r="5.6" fill="#A5A5A7"/>
<circle cx="1187.1" cy="433.9" r="5.6" fill="#A5A5A7"/>
<circle cx="1187.5" cy="530.7" r="5.6" fill="#A5A5A7"/>
<circle cx="1189.4" cy="556.4" r="5.6" fill="#A5A5A7"/>
<circle cx="1189.4" cy="563.2" r="5.6" fill="#A5A5A7"/>
<circle cx="1246.8" cy="465.8" r="5.6" fill="#A5A5A7"/>
<circle cx="1244.3" cy="472.4" r="5.6" fill="#A5A5A7"/>
<circle cx="1249.7" cy="551.6" r="5.6" fill="#A5A5A7"/>
<circle cx="1243.8" cy="557.2" r="5.6" fill="#A5A5A7"/>
<circle cx="1249.2" cy="592.1" r="5.6" fill="#A5A5A7"/>
<circle cx="1253.7" cy="618.6" r="5.6" fill="#A5A5A7"/>
<circle cx="1303.2" cy="501.3" r="5.6" fill="#A5A5A7"/>
<circle cx="1300.3" cy="512.4" r="5.6" fill="#A5A5A7"/>
<circle cx="1310.1" cy="518" r="5.6" fill="#A5A5A7"/>
<circle cx="1305.7" cy="539.3" r="5.6" fill="#A5A5A7"/>
<circle cx="1309.3" cy="547.9" r="5.6" fill="#A5A5A7"/>
<circle cx="1307.6" cy="553.3" r="5.6" fill="#A5A5A7"/>
<circle cx="1300.8" cy="575.4" r="5.6" fill="#A5A5A7"/>
<circle cx="1306.9" cy="577.8" r="5.6" fill="#A5A5A7"/>
<circle cx="1307.6" cy="606.3" r="5.6" fill="#A5A5A7"/>
<circle cx="1305.2" cy="622.7" r="5.6" fill="#A5A5A7"/>
<rect x="1035.95" y="338.35" width="310.1" height="296.1" class="fr"/>
<line x1="1028.7" y1="345.8" x2="1035.95" y2="345.8" class="tk"/>
<text transform="translate(1015.5 354.4) scale(1 1.04)" class="tl" text-anchor="end">430</text>
<line x1="1028.7" y1="409.6" x2="1035.95" y2="409.6" class="tk"/>
<text transform="translate(1015.5 419.5) scale(1 1.04)" class="tl" text-anchor="end">420</text>
<line x1="1028.7" y1="473.3" x2="1035.95" y2="473.3" class="tk"/>
<text transform="translate(1015.5 484.6) scale(1 1.04)" class="tl" text-anchor="end">4 0</text>
<path transform="translate(984.69 484.6) scale(0.013525 -0.013715)" d="M763 0L583 0L583 1147C540 1106 483 1065 413 1024C343 983 280 952 223 931L223 1105C323 1152 410 1209 485 1276C560 1343 613 1406 644 1466L763 1466Z"/>
<line x1="1028.7" y1="537.1" x2="1035.95" y2="537.1" class="tk"/>
<text transform="translate(1015.5 550.1) scale(1 1.04)" class="tl" text-anchor="end">400</text>
<line x1="1028.7" y1="600.9" x2="1035.95" y2="600.9" class="tk"/>
<text transform="translate(1015.5 615.8) scale(1 1.04)" class="tl" text-anchor="end">390</text>
<line x1="1076" y1="634.45" x2="1076" y2="641.7" class="tk"/>
<line x1="1133.45" y1="634.45" x2="1133.45" y2="641.7" class="tk"/>
<line x1="1190.9" y1="634.45" x2="1190.9" y2="641.7" class="tk"/>
<line x1="1248.35" y1="634.45" x2="1248.35" y2="641.7" class="tk"/>
<line x1="1305.8" y1="634.45" x2="1305.8" y2="641.7" class="tk"/>
<text transform="translate(1085.1 649.9) rotate(-90)" class="tl" text-anchor="end">Baltic</text>
<text transform="translate(1143.3 649.9) rotate(-90)" class="tl" text-anchor="end">BrMarine </text>
<path transform="translate(1143.3 649.9) rotate(-90) translate(-15.41 0) scale(0.013525 -0.013187)" d="M763 0L583 0L583 1147C540 1106 483 1065 413 1024C343 983 280 952 223 931L223 1105C323 1152 410 1209 485 1276C560 1343 613 1406 644 1466L763 1466Z"/>
<text transform="translate(1202.3 649.9) rotate(-90)" class="tl" text-anchor="end">BrMarine2</text>
<text transform="translate(1261.2 649.9) rotate(-90)" class="tl" text-anchor="end">Transition</text>
<text transform="translate(1319.6 649.9) rotate(-90)" class="tl" text-anchor="end">Saline</text>
<text x="1047.2" y="367.5" class="pl" text-anchor="start">f.</text>
<text transform="translate(928.4 503) rotate(-90) scale(1 1.04)" class="tl"><tspan font-style="italic">m/z</tspan></text>
</g>
</svg>
</body></html>
